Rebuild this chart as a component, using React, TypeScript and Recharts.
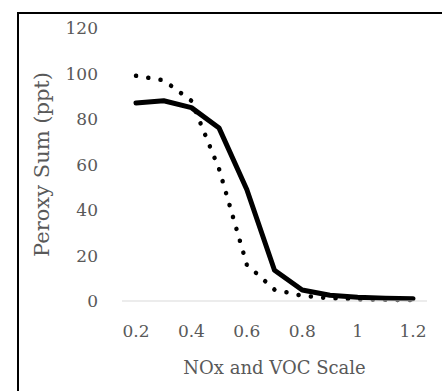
import React from 'react';
import { LineChart, Line, XAxis, YAxis } from 'recharts';

const scales = ['0.2', '0.3', '0.4', '0.5', '0.6', '0.7', '0.8', '0.9', '1', '1.1', '1.2'];
const solidSeries = [87, 88, 85, 76, 49, 13.5, 4.8, 2.5, 1.6, 1.2, 1];
const dottedSeries = [99, 97, 88, 58, 16, 5, 2.3, 1.2, 0.7, 0.5, 0.4];
const yTicks = [0, 20, 40, 60, 80, 100, 120];

const data = scales.map((s, i) => ({ scale: s, solid: solidSeries[i], dotted: dottedSeries[i] }));

const FONT = '"DejaVu Serif", serif';
const GREY = '#595959';

const App: React.FC = () => {
  return (
    <div style={{ position: 'absolute', left: 0, top: 0, width: 442, height: 391, background: '#fff', overflow: 'hidden' }}>
      <div
        style={{
          position: 'absolute', left: 17, top: 12, width: 440, height: 400,
          borderLeft: '2px solid #000', borderTop: '2px solid #000', boxSizing: 'border-box',
        }}
      />
      <div style={{ position: 'absolute', left: 0, top: 0 }}>
        <LineChart width={442} height={391} data={data} margin={{ top: 28, right: 15, left: 32, bottom: 15 }}>
          <XAxis
            dataKey="scale"
            interval={1}
            padding={{ left: 14, right: 14 }}
            axisLine={{ stroke: '#d9d9d9', strokeWidth: 1 }}
            tickLine={false}
            tickSize={0}
            tickMargin={24}
            height={75}
            tick={{ fill: GREY, fontSize: 17, fontFamily: FONT }}
            label={{ value: 'NOx and VOC Scale', position: 'insideBottom', offset: 2, fill: GREY, fontSize: 18, fontFamily: FONT }}
          />
          <YAxis
            domain={[0, 120]}
            ticks={yTicks}
            width={90}
            axisLine={false}
            tickLine={false}
            tickSize={0}
            tickMargin={24}
            tick={{ fill: GREY, fontSize: 17, fontFamily: FONT }}
            label={{ value: 'Peroxy Sum (ppt)', angle: -90, position: 'insideLeft', offset: 10, fill: GREY, fontSize: 21, fontFamily: FONT, style: { textAnchor: 'middle' } }}
          />
          <Line
            type="linear"
            dataKey="dotted"
            stroke="#000"
            strokeWidth={4.5}
            strokeDasharray="0.1 12.3"
            strokeLinecap="round"
            dot={false}
            activeDot={false}
            isAnimationActive={false}
          />
          <Line
            type="linear"
            dataKey="solid"
            stroke="#000"
            strokeWidth={5}
            strokeLinecap="round"
            strokeLinejoin="round"
            dot={false}
            activeDot={false}
            isAnimationActive={false}
          />
        </LineChart>
      </div>
    </div>
  );
};

export default App;
